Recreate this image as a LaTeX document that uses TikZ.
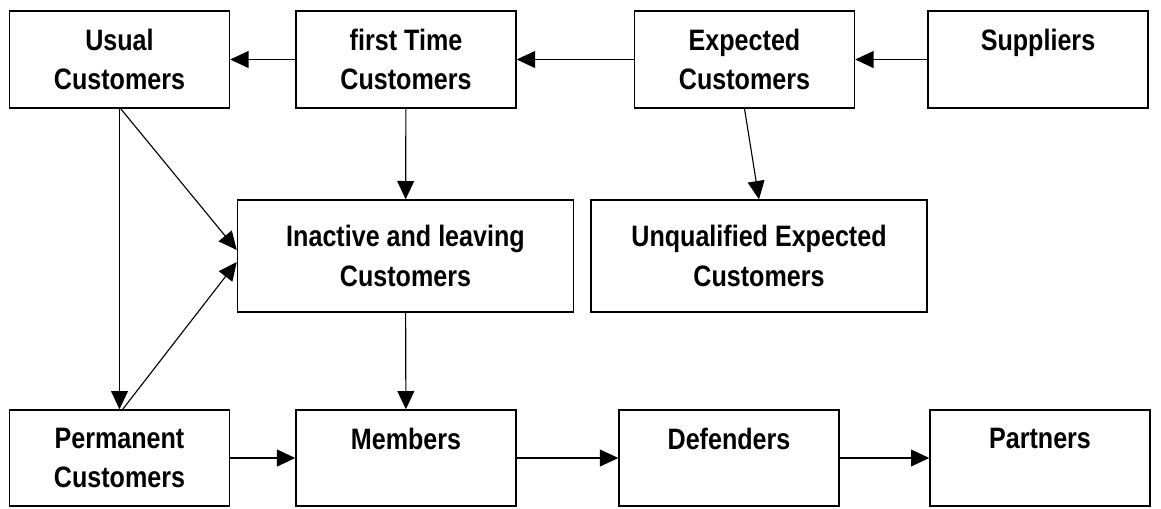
\documentclass[tikz,border=0pt]{standalone}
\usepackage{fontspec}
\setmainfont{Liberation Sans}[FakeStretch=0.85]
\usetikzlibrary{arrows.meta}
\usetikzlibrary{positioning}

\begin{document}
\begin{tikzpicture}
  [x=0.025cm, y=-0.025cm,
   box/.style = {draw, line width=1pt, rectangle, align=center, inner sep=0pt,
                 font=\fontsize{21}{28}\selectfont\bfseries,
                 minimum width=5.5cm, minimum height=2.425cm},
   wide/.style = {minimum width=8.4cm, minimum height=2.8cm},
   every path/.style = {line width=0.8pt},
   >={Triangle[length=13pt, width=12pt]}]
  \useasboundingbox (0,0) rectangle (1161,508);

  \node [box] (usual) at (119.5,59.5) {Usual\\Customers};
  \node [box] (first) at (406,59.5) {first Time\\Customers};
  \node [box] (expected) at (744.5,59.5) {Expected\\Customers};
  \node [box] (suppliers) at (1038,59.5) {Suppliers\\\mbox{}};

  \node [box, wide] (inactive) at (405.5,256) {Inactive and leaving\\Customers};
  \node [box, wide] (unqual) at (759,256) {Unqualified Expected\\Customers};

  \node [box, minimum height=2.4cm] (perm) at (119.5,458) {Permanent\\Customers};
  \node [box, minimum height=2.4cm] (members) at (406,458) {Members\\\mbox{}};
  \node [box, minimum height=2.4cm] (defenders) at (729,458) {Defenders\\\mbox{}};
  \node [box, minimum height=2.4cm] (partners) at (1040,458) {Partners\\\mbox{}};

  % top row
  \draw [->] (first) -- (usual);
  \draw [->] (expected) -- (first);
  \draw [->] (suppliers) -- (expected);
  \draw [->] (first) -- (inactive);
  \draw [->] (expected.south) -- (unqual.north);

  % left side
  \draw [->] (usual.south) -- (perm.north);
  \draw [->] ([xshift=0.03cm]usual.south) -- ([yshift=0.15cm]inactive.west);
  \draw [->] ([xshift=0.08cm]perm.north) -- ([yshift=-0.15cm]inactive.west);
  \draw [->] (inactive) -- (members);

  % bottom row
  \draw [->] (perm) -- (members);
  \draw [->] (members) -- (defenders);
  \draw [->] (defenders) -- (partners);
\end{tikzpicture}
\end{document}
